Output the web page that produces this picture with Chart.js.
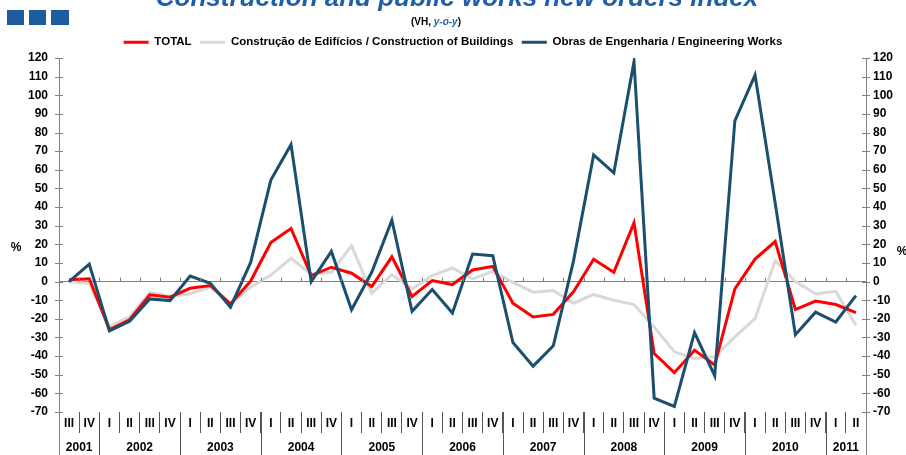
<!DOCTYPE html>
<html>
<head>
<meta charset="utf-8">
<script src="https://cdn.jsdelivr.net/npm/chart.js@4.4.1/dist/chart.umd.min.js"></script>
<style>
  html, body { margin: 0; padding: 0; background: #fff; }
  #wrap { position: relative; width: 906px; height: 455px; }
</style>
</head>
<body>
<div id="wrap"><canvas id="ordersChart" width="906" height="455"></canvas></div>
<script>
// === Data (VH, y-o-y %) ===
const quarterLabels = [
  "III", "IV",
  "I", "II", "III", "IV",
  "I", "II", "III", "IV",
  "I", "II", "III", "IV",
  "I", "II", "III", "IV",
  "I", "II", "III", "IV",
  "I", "II", "III", "IV",
  "I", "II", "III", "IV",
  "I", "II", "III", "IV",
  "I", "II", "III", "IV",
  "I", "II",
];
const yearLabels = ["2001", "2002", "2003", "2004", "2005", "2006", "2007", "2008", "2009", "2010", "2011"];
const quartersPerYear = [2, 4, 4, 4, 4, 4, 4, 4, 4, 4, 2];

const totalValues = [
  1, 1.5,
  -25.8, -20.5, -7.1, -8.4,
  -3.6, -2.1, -12, 0.3,
  21, 28.5, 3.2, 7.7,
  4.5, -2.7, 13.3, -8,
  0.5, -1.6, 6.2, 8.2,
  -11.6, -19, -17.6, -5.5,
  12, 5, 31.5, -38.6,
  -48.9, -36.8, -44.8, -3.9,
  12.1, 21.5, -15, -10.5,
  -12.3, -16.7,
];
const buildingsValues = [
  0, -1,
  -24, -19, -6, -8,
  -6.5, -3, -12, -3,
  3.5, 12.5, 4, 5,
  19.2, -6.2, 3.7, -3.9,
  3.2, 7.3, 1.4, 5.5,
  -0.4, -5.7, -4.8, -11.6,
  -6.9, -10, -12.3, -24.4,
  -37.7, -41.3, -40.4, -29.7,
  -19.9, 11.2, 0, -6.6,
  -5.2, -23.5,
];
const engineeringValues = [
  0, 9.4,
  -26.5, -21.3, -9.3, -10.2,
  3, -0.9, -13.7, 10.3,
  54.5, 73.5, 0, 16.2,
  -15.1, 5, 33, -16,
  -4.3, -16.9, 14.8, 13.9,
  -32.7, -45.4, -34.5, 11,
  68, 58.3, 118, -62.6,
  -67, -27.4, -50.5, 86.3,
  110.8, 42, -28.5, -16.4,
  -21.7, -7.5,
];

const seriesNames = [
  "TOTAL",
  "Construção de Edifícios / Construction of Buildings",
  "Obras de Engenharia / Engineering Works",
];

const RED = "#ff0000";
const GREY = "#d9d9d9";
const NAVY = "#1b4f6e";
const AXIS = "#808080";
const FAMILY = "'Liberation Sans', Arial, sans-serif";
const TICK_FONT = { family: FAMILY, size: 12, weight: "bold" };
const LEGEND_FONT = { family: FAMILY, size: 11.5, weight: "bold" };

// === Header, x-axis table and axis decorations ===
const decorPlugin = {
  id: "decor",
  beforeDraw(chart) {
    const ctx = chart.ctx;
    ctx.save();
    // blue squares top-left
    ctx.fillStyle = "#1f5c9e";
    ctx.fillRect(7, 10, 17, 15);
    ctx.fillRect(29, 10, 17, 15);
    ctx.fillRect(51, 10, 18, 15);
    // title (cut at the top edge, as in the source)
    ctx.fillStyle = "#1f5fa8";
    ctx.font = `italic bold 26px ${FAMILY}`;
    ctx.textAlign = "center";
    ctx.textBaseline = "alphabetic";
    ctx.fillText("Construction and public works new orders index", 457, 6);
    // subtitle
    const a = "(VH, ", b = "y-o-y", c = ")";
    ctx.textAlign = "left";
    ctx.textBaseline = "middle";
    ctx.font = `bold 10px ${FAMILY}`;
    const wa = ctx.measureText(a).width;
    const wc = ctx.measureText(c).width;
    ctx.font = `italic bold 10px ${FAMILY}`;
    const wb = ctx.measureText(b).width;
    const sx = 436 - (wa + wb + wc) / 2;
    ctx.font = `bold 10px ${FAMILY}`;
    ctx.fillStyle = "#000";
    ctx.fillText(a, sx, 22);
    ctx.fillText(c, sx + wa + wb, 22);
    ctx.font = `italic bold 10px ${FAMILY}`;
    ctx.fillStyle = "#1f5fa8";
    ctx.fillText(b, sx + wa, 22);
    ctx.restore();
  },
  afterDraw(chart) {
    const ctx = chart.ctx;
    const area = chart.chartArea;
    const x = chart.scales.x;
    const y = chart.scales.y;
    const H = chart.height;
    const y0 = y.getPixelForValue(0);
    const half = (x.getPixelForValue(1) - x.getPixelForValue(0)) / 2;
    ctx.save();
    ctx.lineWidth = 1;

    // crossing ticks on both value axes
    ctx.strokeStyle = AXIS;
    y.ticks.forEach((t) => {
      const py = Math.round(y.getPixelForValue(t.value)) + 0.5;
      ctx.beginPath();
      ctx.moveTo(area.left - 4, py);
      ctx.lineTo(area.left + 4, py);
      ctx.moveTo(area.right - 4, py);
      ctx.lineTo(area.right + 4, py);
      ctx.stroke();
    });

    // small ticks on the zero line at quarter boundaries
    for (let i = 1; i < quarterLabels.length; i++) {
      const px = Math.round(x.getPixelForValue(i) - half) + 0.5;
      ctx.beginPath();
      ctx.moveTo(px, y0 - 4);
      ctx.lineTo(px, y0);
      ctx.stroke();
    }

    // axis lines continue down through the label table
    ctx.beginPath();
    ctx.moveTo(Math.round(area.left) + 0.5, area.bottom);
    ctx.lineTo(Math.round(area.left) + 0.5, H);
    ctx.moveTo(Math.round(area.right) + 0.5, area.bottom);
    ctx.lineTo(Math.round(area.right) + 0.5, H);
    ctx.stroke();

    // year row
    ctx.font = `bold 12px ${FAMILY}`;
    ctx.fillStyle = "#000";
    ctx.textAlign = "center";
    ctx.textBaseline = "middle";
    ctx.strokeStyle = "#555";
    let start = 0;
    yearLabels.forEach((yr, k) => {
      const end = start + quartersPerYear[k] - 1;
      const left = x.getPixelForValue(start) - half;
      const right = x.getPixelForValue(end) + half;
      ctx.fillText(yr, (left + right) / 2, 448);
      if (k < yearLabels.length - 1) {
        const px = Math.round(right) + 0.5;
        ctx.beginPath();
        ctx.moveTo(px, area.bottom);
        ctx.lineTo(px, H);
        ctx.stroke();
      }
      start = end + 1;
    });

    // % unit labels
    ctx.fillText("%", 16, 248);
    ctx.fillText("%", 902, 252);
    ctx.restore();
  },
};

const ctx = document.getElementById("ordersChart").getContext("2d");

new Chart(ctx, {
  type: "line",
  data: {
    labels: quarterLabels,
    datasets: [
      {
        label: seriesNames[0],
        data: totalValues,
        borderColor: RED,
        backgroundColor: RED,
        borderWidth: 3,
        pointRadius: 0,
        tension: 0,
        order: 1,
      },
      {
        label: seriesNames[1],
        data: buildingsValues,
        borderColor: GREY,
        backgroundColor: GREY,
        borderWidth: 3,
        pointRadius: 0,
        tension: 0,
        order: 2,
      },
      {
        label: seriesNames[2],
        data: engineeringValues,
        borderColor: NAVY,
        backgroundColor: NAVY,
        borderWidth: 3,
        pointRadius: 0,
        tension: 0,
        order: 0,
      },
    ],
  },
  options: {
    responsive: false,
    animation: false,
    devicePixelRatio: 1,
    layout: { padding: { top: 28, left: 0, right: 0, bottom: 0 } },
    plugins: {
      tooltip: { enabled: false },
      legend: {
        position: "top",
        align: "center",
        labels: {
          boxWidth: 25,
          boxHeight: 3,
          padding: 8.5,
          color: "#000",
          font: LEGEND_FONT,
          generateLabels: (chart) =>
            chart.data.datasets.map((ds, i) => ({
              text: ds.label,
              fillStyle: ds.borderColor,
              strokeStyle: ds.borderColor,
              lineWidth: 0,
              fontColor: "#000",
              datasetIndex: i,
              hidden: false,
            })),
        },
      },
    },
    scales: {
      x: {
        type: "category",
        offset: true,
        border: { display: false },
        grid: {
          offset: true,
          drawOnChartArea: false,
          drawTicks: true,
          tickLength: 21,
          color: "#555",
        },
        ticks: {
          color: "#000",
          font: TICK_FONT,
          autoSkip: false,
          maxRotation: 0,
          padding: -17,
        },
        afterFit: (scale) => { scale.height = 43; },
      },
      y: {
        position: "left",
        min: -70,
        max: 120,
        border: { display: true, color: AXIS },
        grid: {
          drawTicks: false,
          color: (c) => (c.tick && c.tick.value === 0 ? AXIS : "transparent"),
        },
        ticks: { stepSize: 10, color: "#000", font: TICK_FONT, padding: 11 },
        afterFit: (scale) => { scale.width = 59; },
      },
      y2: {
        position: "right",
        min: -70,
        max: 120,
        border: { display: true, color: AXIS },
        grid: { drawOnChartArea: false, drawTicks: false },
        ticks: { stepSize: 10, color: "#000", font: TICK_FONT, padding: 7 },
        afterFit: (scale) => { scale.width = 40; },
      },
    },
  },
  plugins: [decorPlugin],
});
</script>
</body>
</html>
